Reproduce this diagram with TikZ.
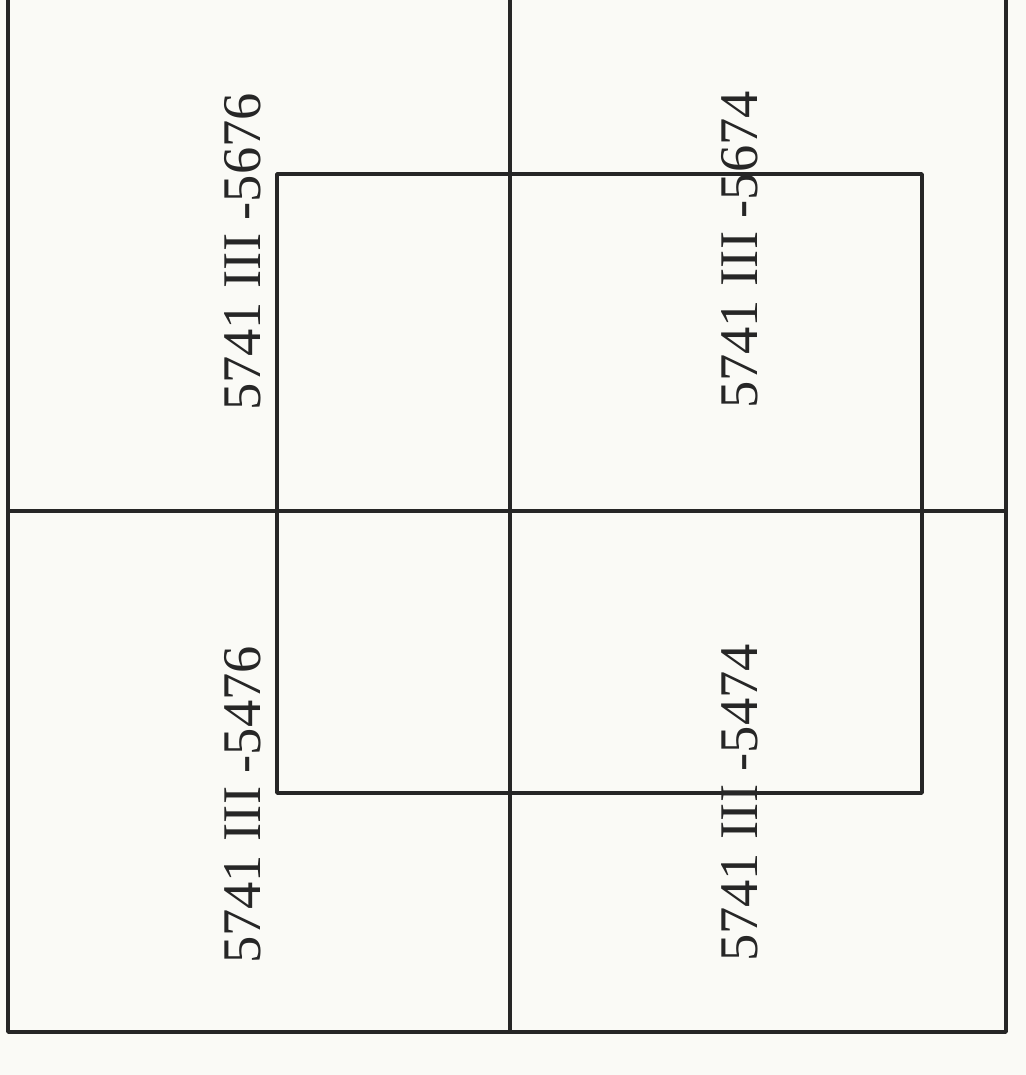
\documentclass[tikz,border=0pt]{standalone}
\usepackage{fontspec}
\setmainfont{Liberation Serif}
\usepackage{tikz}
\usetikzlibrary{calc,positioning}
\definecolor{paper}{rgb}{0.98,0.98,0.965}
\tikzset{
	gridline/.style={
		draw=black!85, line width=2pt, line cap=round, line join=round
	},
	sheetlabel/.style={
		rotate=90, inner sep=0pt, text=black!85,
		font=\fontsize{31}{34}\selectfont
	}
}

\begin{document}
\begin{tikzpicture}
				\fill[paper] (0,0) rectangle (20.52,21.5);
				\useasboundingbox (0,0) rectangle (20.52,21.5);
				% sheet corners
				\coordinate (tl) at (0.16,21.5);
				\coordinate (bl) at (0.16,0.86);
				\coordinate (br) at (20.12,0.86);
				\coordinate (tr) at (20.12,21.5);
				\coordinate (mt) at (10.2,21.5);
				\coordinate (mb) at (10.2,0.86);
				\coordinate (ml) at (0.16,11.28);
				\coordinate (mr) at (20.12,11.28);
				\draw[gridline] (tl) -- (bl) -- (br) -- (tr);
				\draw[gridline] (mt) -- (mb);
				\draw[gridline] (ml) -- (mr);
				% overlapping sheet
				\coordinate (inA) at (5.54,5.64);
				\coordinate (inB) at (18.44,18.02);
				\draw[gridline] (inA) rectangle (inB);
				\node[sheetlabel] (n5676) at (4.86,16.46) {5741 III -5676};
				\node[sheetlabel] (n5674) at (14.8,16.50) {5741 III -5674};
				\node[sheetlabel] (n5476) at (4.86,5.40) {5741 III -5476};
				\node[sheetlabel] (n5474) at (14.8,5.44) {5741 III -5474};
			\end{tikzpicture}
\end{document}
